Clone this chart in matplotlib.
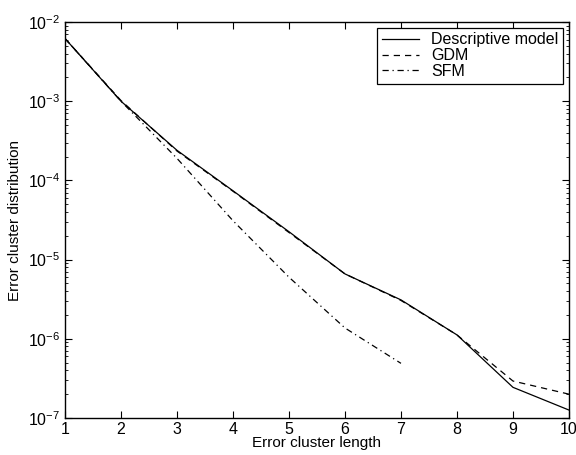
import matplotlib
matplotlib.use("Agg")
import matplotlib.pyplot as plt
from matplotlib.ticker import LogLocator, NullFormatter

# data
length = [1, 2, 3, 4, 5, 6, 7, 8, 9, 10]
descriptive = [6.2e-3, 1.0e-3, 2.4e-4, 7.4e-5, 2.25e-5, 6.6e-6, 3.1e-6, 1.12e-6, 2.44e-7, 1.26e-7]
gdm = [6.2e-3, 1.02e-3, 2.35e-4, 7.3e-5, 2.2e-5, 6.6e-6, 3.05e-6, 1.12e-6, 2.93e-7, 2.0e-7]
sfm_length = [1, 2, 3, 4, 5, 6, 7]
sfm = [6.2e-3, 1.0e-3, 1.9e-4, 3.1e-5, 6.0e-6, 1.37e-6, 4.9e-7]

plt.rcParams["font.family"] = ["Liberation Sans", "DejaVu Sans"]
plt.rcParams["mathtext.fontset"] = "custom"
plt.rcParams["mathtext.rm"] = "Liberation Sans"

fig = plt.figure(figsize=(5.76, 4.55), dpi=100)
ax = fig.add_axes([0.1128, 0.0813, 0.875, 0.8703])

ax.plot(length, descriptive, "k-", lw=0.9, label="Descriptive model")
ax.plot(length, gdm, "k--", lw=0.9, dashes=(5, 4), label="GDM")
ax.plot(sfm_length, sfm, "k-.", lw=0.9, dashes=(5, 3, 1, 3), label="SFM")

ax.set_yscale("log")
ax.set_xlim(1, 10)
ax.set_ylim(1e-7, 1e-2)
ax.set_xticks(range(1, 11))
ax.yaxis.set_minor_locator(LogLocator(base=10, subs=range(2, 10)))
ax.yaxis.set_minor_formatter(NullFormatter())

ax.tick_params(which="both", direction="in", top=True, right=True, labelsize=11.5)
ax.tick_params(which="major", length=5)
ax.tick_params(which="minor", length=2.5)
ax.tick_params(axis="x", pad=3)
for s in ax.spines.values():
    s.set_linewidth(1.0)

ax.set_xlabel("Error cluster length", fontsize=11, labelpad=-1)
ax.set_ylabel("Error cluster distribution", fontsize=11, labelpad=4)

leg = ax.legend(loc="upper right", fontsize=11.5, fancybox=False, framealpha=1,
                edgecolor="black", borderaxespad=0.35, handlelength=2.3,
                handletextpad=0.8, borderpad=0.3, labelspacing=0.05)
leg.get_frame().set_linewidth(0.9)

fig.savefig("out.png", dpi=100)
